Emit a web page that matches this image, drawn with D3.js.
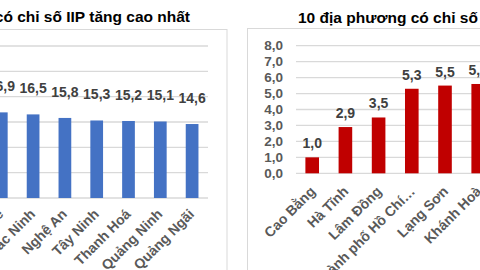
<!DOCTYPE html>
<html lang="vi">
<head>
<meta charset="UTF-8">
<title>IIP địa phương</title>
<script src="https://d3js.org/d3.v7.min.js"></script>
<style>
    html, body { margin: 0; padding: 0; background: #fff; overflow: hidden; }
    svg { display: block; font-family: 'Liberation Sans', Arial, sans-serif; }
    .title { font-size: 15.5px; font-weight: bold; fill: #000; }
    .val { font-size: 14px; font-weight: bold; fill: #404040; }
    .cat { font-size: 14px; font-weight: bold; fill: #595959; }
    .tick-lbl { font-size: 13.5px; font-weight: bold; fill: #595959; }
</style>
</head>
<body>
<svg id="chart" width="480" height="270"></svg>
<script>
    // left panel: highest IIP growth (only part of it is in frame)
    const topProvinces = ['Huế', 'Bắc Ninh', 'Nghệ An', 'Tây Ninh', 'Thanh Hoá', 'Quảng Ninh', 'Quảng Ngãi'];
    const topValues = [16.9, 16.5, 15.8, 15.3, 15.2, 15.1, 14.6];
    const topTicks = [0, 5, 10, 15, 20, 25, 30];

    // right panel: lowest IIP growth
    const lowProvinces = ['Cao Bằng', 'Hà Tĩnh', 'Lâm Đồng', 'Thành phố Hồ Chí…', 'Lạng Sơn', 'Khánh Hoà'];
    const lowValues = [1.0, 2.9, 3.5, 5.3, 5.5, 5.6];
    const lowTicks = [0, 1, 2, 3, 4, 5, 6, 7, 8];

    const fmt = v => d3.format('.1f')(v).replace('.', ',');
    const svg = d3.select('#chart');

    // ---- left chart ----
    const left = svg.append('g');
    left.append('rect')
        .attr('x', -10).attr('y', 29.5).attr('width', 237).attr('height', 260)
        .attr('fill', 'none').attr('stroke', '#d9d9d9').attr('stroke-width', 1);
    left.append('text').attr('class', 'title')
        .attr('x', 190).attr('y', 22).attr('text-anchor', 'end')
        .text('10 địa phương có chỉ số IIP tăng cao nhất');

    const xL = d3.scaleBand().domain(topProvinces).range([-14.6, 208])
        .paddingInner(0.6).paddingOuter(0.3);
    const yL = d3.scaleLinear().domain([0, 30]).range([198, 46]);

    left.selectAll('.grid').data(topTicks).join('line')
        .attr('x1', -10).attr('x2', 208)
        .attr('y1', d => yL(d)).attr('y2', d => yL(d))
        .attr('stroke', '#d9d9d9').attr('stroke-width', 1.3);

    left.selectAll('.bar').data(topValues).join('rect')
        .attr('x', (d, i) => xL(topProvinces[i]))
        .attr('width', xL.bandwidth())
        .attr('y', d => yL(d))
        .attr('height', d => yL(0) - yL(d))
        .attr('fill', '#4472c4');

    left.selectAll('.val').data(topValues).join('text').attr('class', 'val')
        .attr('x', (d, i) => xL(topProvinces[i]) + xL.bandwidth() / 2)
        .attr('y', d => yL(d) - 21)
        .attr('text-anchor', 'middle')
        .text(fmt);

    left.selectAll('.cat').data(topProvinces).join('text').attr('class', 'cat')
        .attr('text-anchor', 'end')
        .attr('transform', d => `translate(${xL(d) + xL.bandwidth() / 2 + 3},${yL(0) + 17}) rotate(-45)`)
        .text(d => d);

    // ---- right chart ----
    const right = svg.append('g');
    right.append('rect')
        .attr('x', 247.5).attr('y', 28.5).attr('width', 260).attr('height', 260)
        .attr('fill', 'none').attr('stroke', '#d9d9d9').attr('stroke-width', 1);
    right.append('text').attr('class', 'title')
        .attr('x', 298).attr('y', 23)
        .text('10 địa phương có chỉ số IIP tăng thấp nhất');

    const xR = d3.scaleBand().domain(lowProvinces).range([295.6, 494.8])
        .paddingInner(0.59).paddingOuter(0.295);
    const yR = d3.scaleLinear().domain([0, 8]).range([173.3, 45.7]);

    right.selectAll('.grid').data(lowTicks).join('line')
        .attr('x1', 296).attr('x2', 490)
        .attr('y1', d => yR(d)).attr('y2', d => yR(d))
        .attr('stroke', '#d9d9d9').attr('stroke-width', 1.3);

    right.selectAll('.tick-lbl').data(lowTicks).join('text').attr('class', 'tick-lbl')
        .attr('x', 283).attr('y', d => yR(d))
        .attr('dy', '0.35em').attr('text-anchor', 'end')
        .text(fmt);

    right.selectAll('.bar').data(lowValues).join('rect')
        .attr('x', (d, i) => xR(lowProvinces[i]))
        .attr('width', xR.bandwidth())
        .attr('y', d => yR(d))
        .attr('height', d => yR(0) - yR(d))
        .attr('fill', '#c00000');

    right.selectAll('.val').data(lowValues).join('text').attr('class', 'val')
        .attr('x', (d, i) => xR(lowProvinces[i]) + xR.bandwidth() / 2)
        .attr('y', d => yR(d) - 9)
        .attr('text-anchor', 'middle')
        .text(fmt);

    right.selectAll('.cat').data(lowProvinces).join('text').attr('class', 'cat')
        .attr('text-anchor', 'end')
        .attr('transform', d => `translate(${xR(d) + xR.bandwidth() / 2 + 4},${yR(0) + 19}) rotate(-45)`)
        .text(d => d);
</script>
</body>
</html>
